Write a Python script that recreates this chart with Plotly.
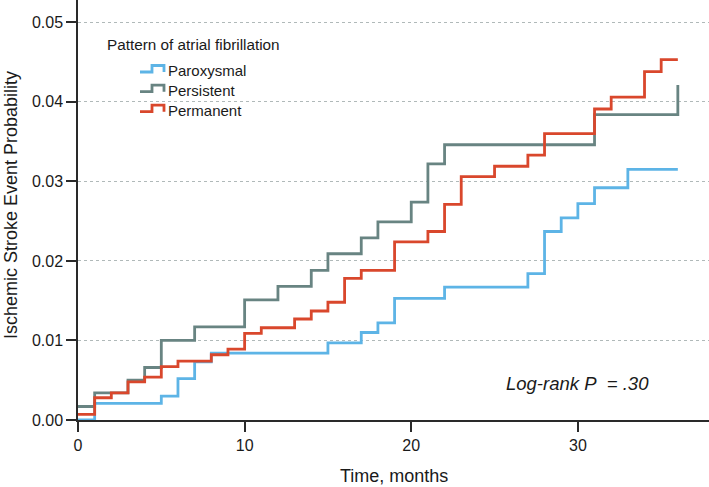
import plotly.graph_objects as go

# ---- data ----
series_names = ["Paroxysmal", "Persistent", "Permanent"]

parox_t = [0, 1, 5, 6, 7, 8, 15, 17, 18, 19, 22, 27, 28, 29, 30, 31, 33, 36]
parox_p = [0.0000, 0.0021, 0.0030, 0.0052, 0.0073, 0.0084, 0.0097, 0.0110, 0.0122,
           0.0153, 0.0167, 0.0184, 0.0237, 0.0254, 0.0272, 0.0292, 0.0315, 0.0315]

persist_t = [0, 1, 3, 4, 5, 7, 10, 12, 14, 15, 17, 18, 20, 21, 22, 31, 36]
persist_p = [0.0017, 0.0034, 0.0050, 0.0066, 0.0100, 0.0117, 0.0151, 0.0168, 0.0188,
             0.0209, 0.0229, 0.0249, 0.0274, 0.0322, 0.0346, 0.0384, 0.0421]

perm_t = [0, 1, 2, 3, 4, 5, 6, 8, 9, 10, 11, 13, 14, 15, 16, 17, 19, 21, 22, 23,
          25, 27, 28, 31, 32, 34, 35, 36]
perm_p = [0.0007, 0.0028, 0.0034, 0.0048, 0.0054, 0.0067, 0.0074, 0.0082, 0.0089,
          0.0109, 0.0116, 0.0127, 0.0137, 0.0148, 0.0178, 0.0188, 0.0224, 0.0237,
          0.0271, 0.0306, 0.0319, 0.0333, 0.0360, 0.0391, 0.0406, 0.0438, 0.0453, 0.0453]

x_ticks = [0, 10, 20, 30]
y_ticks = [0.00, 0.01, 0.02, 0.03, 0.04, 0.05]
y_tick_labels = ["0.00", "0.01", "0.02", "0.03", "0.04", "0.05"]

legend_title = "Pattern of atrial fibrillation"
x_title = "Time, months"
y_title = "Ischemic Stroke Event Probability"
pvalue_text = "<i>Log-rank P\u00a0\u00a0= .30</i>"

colors = ["#5DB4E6", "#688482", "#D9472C"]

# ---- layout geometry ----
W, H = 709, 487
ML, MR, MT, MB = 78, 0, 0, 67
PW, PH = W - ML - MR, H - MT - MB
FONT = "Liberation Sans, Arial, sans-serif"
TXT = "#1a1a1a"
AX = "#2a2a2a"


def px2paper_x(px):
    return (px - ML) / PW


def px2paper_y(py):
    return (H - MB - py) / PH


fig = go.Figure()
for name, t, p, c in zip(series_names, [parox_t, persist_t, perm_t],
                         [parox_p, persist_p, perm_p], colors):
    fig.add_trace(go.Scatter(x=t, y=p, mode="lines", name=name,
                             line=dict(color=c, width=2.8, shape="hv"),
                             showlegend=False))

annotations = []
shapes = []

# custom legend (step-shaped icons)
annotations.append(dict(text=legend_title, xref="paper", yref="paper",
                        x=px2paper_x(105), y=px2paper_y(44.5),
                        xanchor="left", yanchor="middle", showarrow=False,
                        font=dict(family=FONT, size=15.3, color=TXT)))
item_y = [71, 90.7, 110.7]
for name, c, yc in zip(series_names, colors, item_y):
    annotations.append(dict(text=name, xref="paper", yref="paper",
                            x=px2paper_x(165.5), y=px2paper_y(yc),
                            xanchor="left", yanchor="middle", showarrow=False,
                            font=dict(family=FONT, size=15, color=TXT)))
    lo, hi = yc + 1.0, yc - 5.5
    x0, x1, x2 = 140, 152, 164
    path = (f"M {px2paper_x(x0)},{px2paper_y(lo)} L {px2paper_x(x1)},{px2paper_y(lo)} "
            f"L {px2paper_x(x1)},{px2paper_y(hi)} L {px2paper_x(x2)},{px2paper_y(hi)} "
            f"L {px2paper_x(x2)},{px2paper_y(lo)}")
    shapes.append(dict(type="path", xref="paper", yref="paper", path=path,
                       line=dict(color=c, width=2.8)))

# axis titles
annotations.append(dict(text=x_title, xref="paper", yref="paper", x=0.5, y=0,
                        yshift=-56, xanchor="center", yanchor="middle", showarrow=False,
                        font=dict(family=FONT, size=18, color=TXT)))
annotations.append(dict(text=y_title, xref="paper", yref="paper", x=0, xshift=-67,
                        y=px2paper_y(205), xanchor="center", yanchor="middle",
                        textangle=-90, showarrow=False,
                        font=dict(family=FONT, size=18, color=TXT)))
# p-value
annotations.append(dict(text=pvalue_text, xref="paper", yref="paper",
                        x=px2paper_x(577), y=px2paper_y(383.5),
                        xanchor="center", yanchor="middle", showarrow=False,
                        font=dict(family=FONT, size=18.5, color=TXT)))

fig.update_layout(
    width=W, height=H,
    margin=dict(l=ML, r=MR, t=MT, b=MB, pad=0),
    paper_bgcolor="white", plot_bgcolor="white",
    font=dict(family=FONT, size=16, color=TXT),
    showlegend=False,
    annotations=annotations,
    shapes=shapes,
    xaxis=dict(range=[0, 37.87], tickvals=x_ticks, ticks="outside", ticklen=10,
               tickwidth=1.5, tickcolor=AX, showline=True, linecolor=AX, linewidth=1.5,
               showgrid=False, zeroline=False, tickfont=dict(size=16, color=TXT)),
    yaxis=dict(range=[0, 0.0528], tickvals=y_ticks, ticktext=y_tick_labels,
               ticks="outside", ticklen=10, tickwidth=1.5, tickcolor=AX,
               showline=True, linecolor=AX, linewidth=1.5,
               showgrid=True, gridcolor="#b0b9b9", gridwidth=1, griddash="3px,3px",
               zeroline=False, tickfont=dict(size=16, color=TXT)),
)

fig.write_html("out.html", config={"displayModeBar": False},
               post_script="document.body.style.margin='0';document.body.style.padding='0';")
